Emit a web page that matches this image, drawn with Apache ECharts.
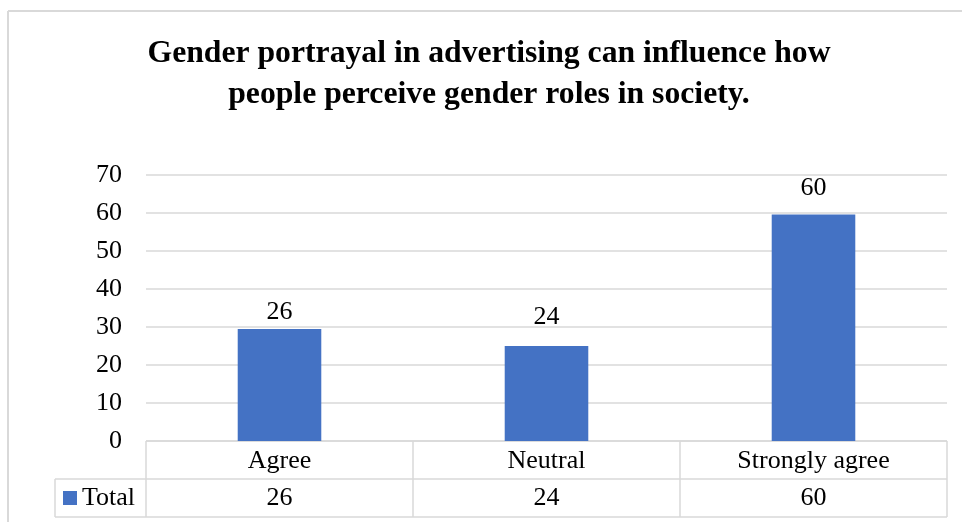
<!DOCTYPE html>
<html>
<head>
<meta charset="utf-8">
<script src="https://cdn.jsdelivr.net/npm/echarts@6/dist/echarts.min.js"></script>
<style>
html,body{margin:0;padding:0;background:#fff;}
#chart{width:962px;height:522px;}
</style>
</head>
<body>
<div id="chart"></div>
<script>
// ---- data ----
const categories = ['Agree', 'Neutral', 'Strongly agree'];
const barValues = [29.5, 25, 59.6];          // bar heights as drawn in the picture
const labelValues = ['26', '24', '60'];      // data labels / table values as printed
const seriesName = 'Total';
const yTicks = [0, 10, 20, 30, 40, 50, 60, 70];
const titleText = 'Gender portrayal in advertising can influence how\npeople perceive gender roles in society.';

// ---- layout ----
const W = 962, H = 522;
const gridLeft = 146, gridRight = 947, gridTop = 175, gridBottom = 441;
const rowH = 38;
const tableLeft = 55;
const border = '#d9d9d9';
const font = '"Liberation Serif", "Times New Roman", serif';
const fs = 26;
const labelDist = [4, 16, 13];

const chart = echarts.init(document.getElementById('chart'), null, {renderer: 'canvas'});

const bandW = (gridRight - gridLeft) / categories.length;
const graphics = [];
// outer chart border (top & left)
graphics.push({type: 'line', shape: {x1: 8, y1: 11, x2: W, y2: 11}, style: {stroke: border, lineWidth: 2}, silent: true});
graphics.push({type: 'line', shape: {x1: 8, y1: 11, x2: 8, y2: H}, style: {stroke: border, lineWidth: 2}, silent: true});
// table horizontal lines
graphics.push({type: 'line', shape: {x1: gridLeft, y1: gridBottom, x2: gridRight, y2: gridBottom}, style: {stroke: border, lineWidth: 1.5}});
graphics.push({type: 'line', shape: {x1: tableLeft, y1: gridBottom + rowH, x2: gridRight, y2: gridBottom + rowH}, style: {stroke: border, lineWidth: 1.5}});
graphics.push({type: 'line', shape: {x1: tableLeft, y1: gridBottom + 2 * rowH, x2: gridRight, y2: gridBottom + 2 * rowH}, style: {stroke: border, lineWidth: 1.5}});
// vertical lines
graphics.push({type: 'line', shape: {x1: tableLeft, y1: gridBottom + rowH, x2: tableLeft, y2: gridBottom + 2 * rowH}, style: {stroke: border, lineWidth: 1.5}});
for (let k = 0; k <= categories.length; k++) {
  const x = gridLeft + bandW * k;
  graphics.push({type: 'line', shape: {x1: x, y1: gridBottom, x2: x, y2: gridBottom + 2 * rowH}, style: {stroke: border, lineWidth: 1.5}});
}

const option = {
  backgroundColor: '#ffffff',
  animation: false,
  title: {
    text: titleText,
    left: 484,
    textAlign: 'center',
    top: 28,
    textStyle: {fontFamily: font, fontWeight: 'bold', fontSize: 31.7, color: '#000', lineHeight: 41}
  },
  legend: {
    data: [seriesName],
    left: 58,
    top: 480,
    icon: 'rect',
    itemWidth: 14,
    itemHeight: 14,
    itemGap: 9,
    textStyle: {fontFamily: font, fontSize: fs, color: '#000', padding: [2, 0, 0, 0]}
  },
  grid: {left: gridLeft, right: W - gridRight, top: gridTop, bottom: H - gridBottom, containLabel: false},
  xAxis: [
    {
      type: 'category',
      data: categories,
      axisLine: {show: false},
      axisTick: {show: false},
      axisLabel: {fontFamily: font, fontSize: fs, color: '#000', margin: 7}
    },
    {
      type: 'category',
      data: labelValues,
      position: 'bottom',
      offset: rowH,
      axisLine: {show: false},
      axisTick: {show: false},
      axisLabel: {fontFamily: font, fontSize: fs, color: '#000', margin: 6}
    }
  ],
  yAxis: {
    type: 'value',
    min: yTicks[0],
    max: yTicks[yTicks.length - 1],
    interval: 10,
    axisLine: {show: false},
    axisTick: {show: false},
    axisLabel: {fontFamily: font, fontSize: fs, color: '#000', margin: 24},
    splitLine: {lineStyle: {color: border, width: 1.5}}
  },
  series: [{
    name: seriesName,
    type: 'bar',
    xAxisIndex: 0,
    barWidth: '31.3%',
    itemStyle: {color: '#4472c4'},
    data: barValues.map((v, i) => ({
      value: v,
      label: {
        show: true,
        position: 'top',
        distance: labelDist[i],
        formatter: labelValues[i],
        fontFamily: font,
        fontSize: fs,
        color: '#000'
      }
    }))
  }],
  graphic: graphics
};
chart.setOption(option);
</script>
</body>
</html>
